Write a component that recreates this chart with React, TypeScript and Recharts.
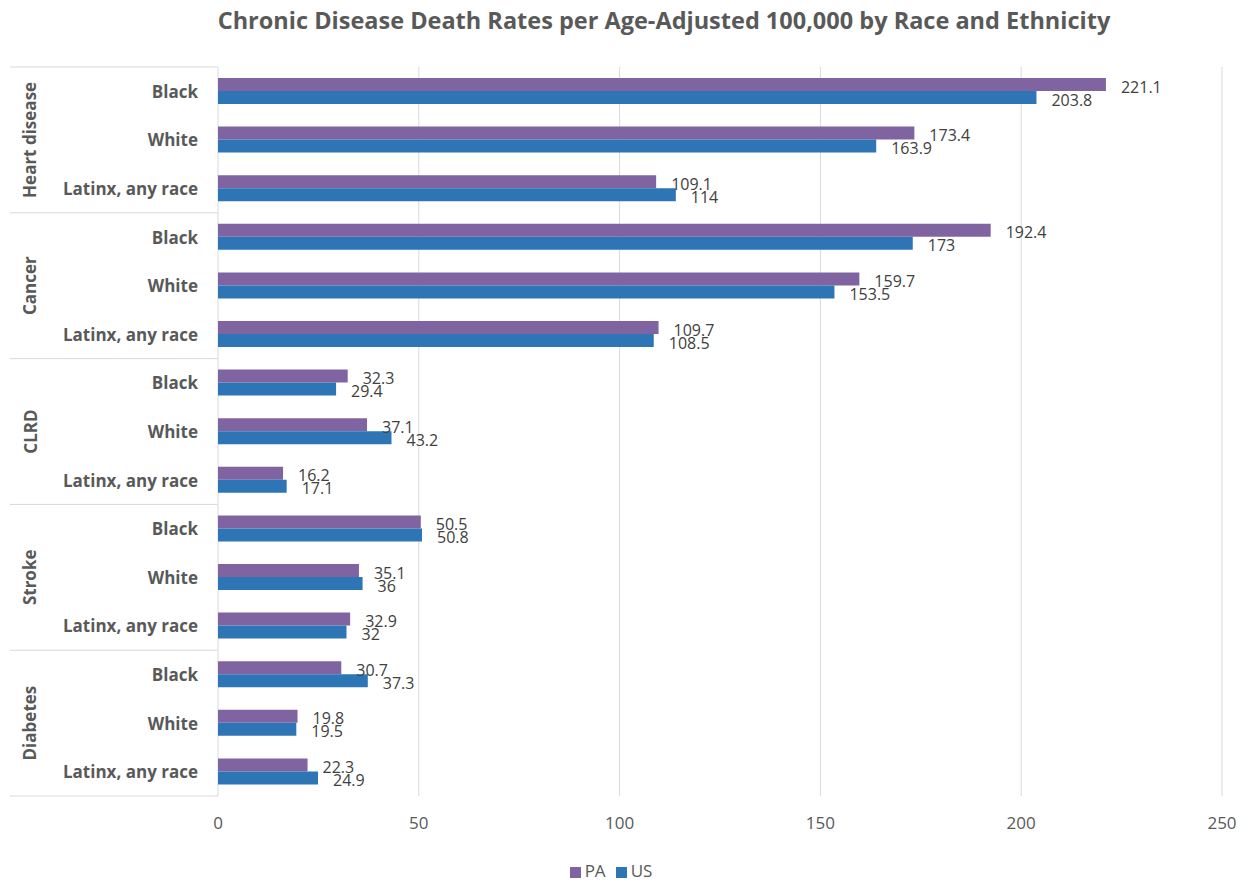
import { BarChart, Bar, XAxis, YAxis, CartesianGrid, Legend, LabelList } from "recharts";

const diseases = ["Heart disease", "Cancer", "CLRD", "Stroke", "Diabetes"];
const races = ["Black", "White", "Latinx, any race"];

const paValues = [221.1, 173.4, 109.1, 192.4, 159.7, 109.7, 32.3, 37.1, 16.2, 50.5, 35.1, 32.9, 30.7, 19.8, 22.3];
const usValues = [203.8, 163.9, 114, 173, 153.5, 108.5, 29.4, 43.2, 17.1, 50.8, 36, 32, 37.3, 19.5, 24.9];

const xTicks = [0, 50, 100, 150, 200, 250];

const data = paValues.map((pa, i) => ({
  race: races[i % 3],
  group: diseases[Math.floor(i / 3)],
  PA: pa,
  US: usValues[i],
}));

const PLOT_TOP = 67;
const PLOT_H = 728;
const BAND = PLOT_H / data.length;
const GRAY = "#595959";
const LINE = "#d9d9d9";

function RaceTick(props: any) {
  const { x, y, payload, index } = props;
  const row = data[index];
  return (
    <g>
      <text x={x - 12} y={y} textAnchor="end" dominantBaseline="central" fill={GRAY} fontSize={17} fontWeight="bold">
        {payload.value}
      </text>
      {index % 3 === 1 && (
        <text
          x={30}
          y={y}
          transform={`rotate(-90, 30, ${y})`}
          textAnchor="middle"
          dominantBaseline="central"
          fill={GRAY}
          fontSize={17}
          fontWeight="bold"
        >
          {row.group}
        </text>
      )}
      {index % 3 === 0 && <line x1={10} x2={218} y1={y - BAND / 2} y2={y - BAND / 2} stroke={LINE} />}
      {index === data.length - 1 && <line x1={10} x2={218} y1={y + BAND / 2} y2={y + BAND / 2} stroke={LINE} />}
    </g>
  );
}

function ValueLabel(props: any) {
  const { x, y, width, height, value } = props;
  return (
    <text x={x + width + 15} y={y + height / 2 + 2} dominantBaseline="central" fill="#404040" fontSize={16}>
      {value}
    </text>
  );
}

export default function App() {
  return (
    <div style={{ position: "absolute", left: 0, top: 0, width: 1247, height: 884, background: "#fff", fontFamily: "'Open Sans', sans-serif" }}>
      <div
        style={{
          position: "absolute",
          top: 4,
          left: 664 - 550,
          width: 1100,
          textAlign: "center",
          fontSize: 23.5,
          fontWeight: "bold",
          color: GRAY,
        }}
      >
        Chronic Disease Death Rates per Age-Adjusted 100,000 by Race and Ethnicity
      </div>
      <BarChart
        width={1247}
        height={884}
        data={data}
        layout="vertical"
        margin={{ top: PLOT_TOP, right: 25, bottom: 2, left: 10 }}
        barCategoryGap={0}
        barGap={0}
      >
        <CartesianGrid horizontal={false} stroke={LINE} />
        <XAxis
          type="number"
          domain={[0, 250]}
          ticks={xTicks}
          axisLine={false}
          tickLine={false}
          tickMargin={15}
          height={63}
          tick={{ fill: GRAY, fontSize: 17 }}
        />
        <YAxis
          type="category"
          dataKey="race"
          width={208}
          axisLine={false}
          tickLine={false}
          interval={0}
          tick={<RaceTick />}
        />
        <Legend
          verticalAlign="bottom"
          iconType="square"
          iconSize={11}
          formatter={(value) => <span style={{ color: GRAY, fontSize: 17 }}>{value}</span>}
        />
        <Bar dataKey="PA" name="PA" fill="#8064A2" barSize={13} isAnimationActive={false}>
          <LabelList dataKey="PA" content={<ValueLabel />} />
        </Bar>
        <Bar dataKey="US" name="US" fill="#2E75B6" barSize={13} isAnimationActive={false}>
          <LabelList dataKey="US" content={<ValueLabel />} />
        </Bar>
      </BarChart>
    </div>
  );
}
